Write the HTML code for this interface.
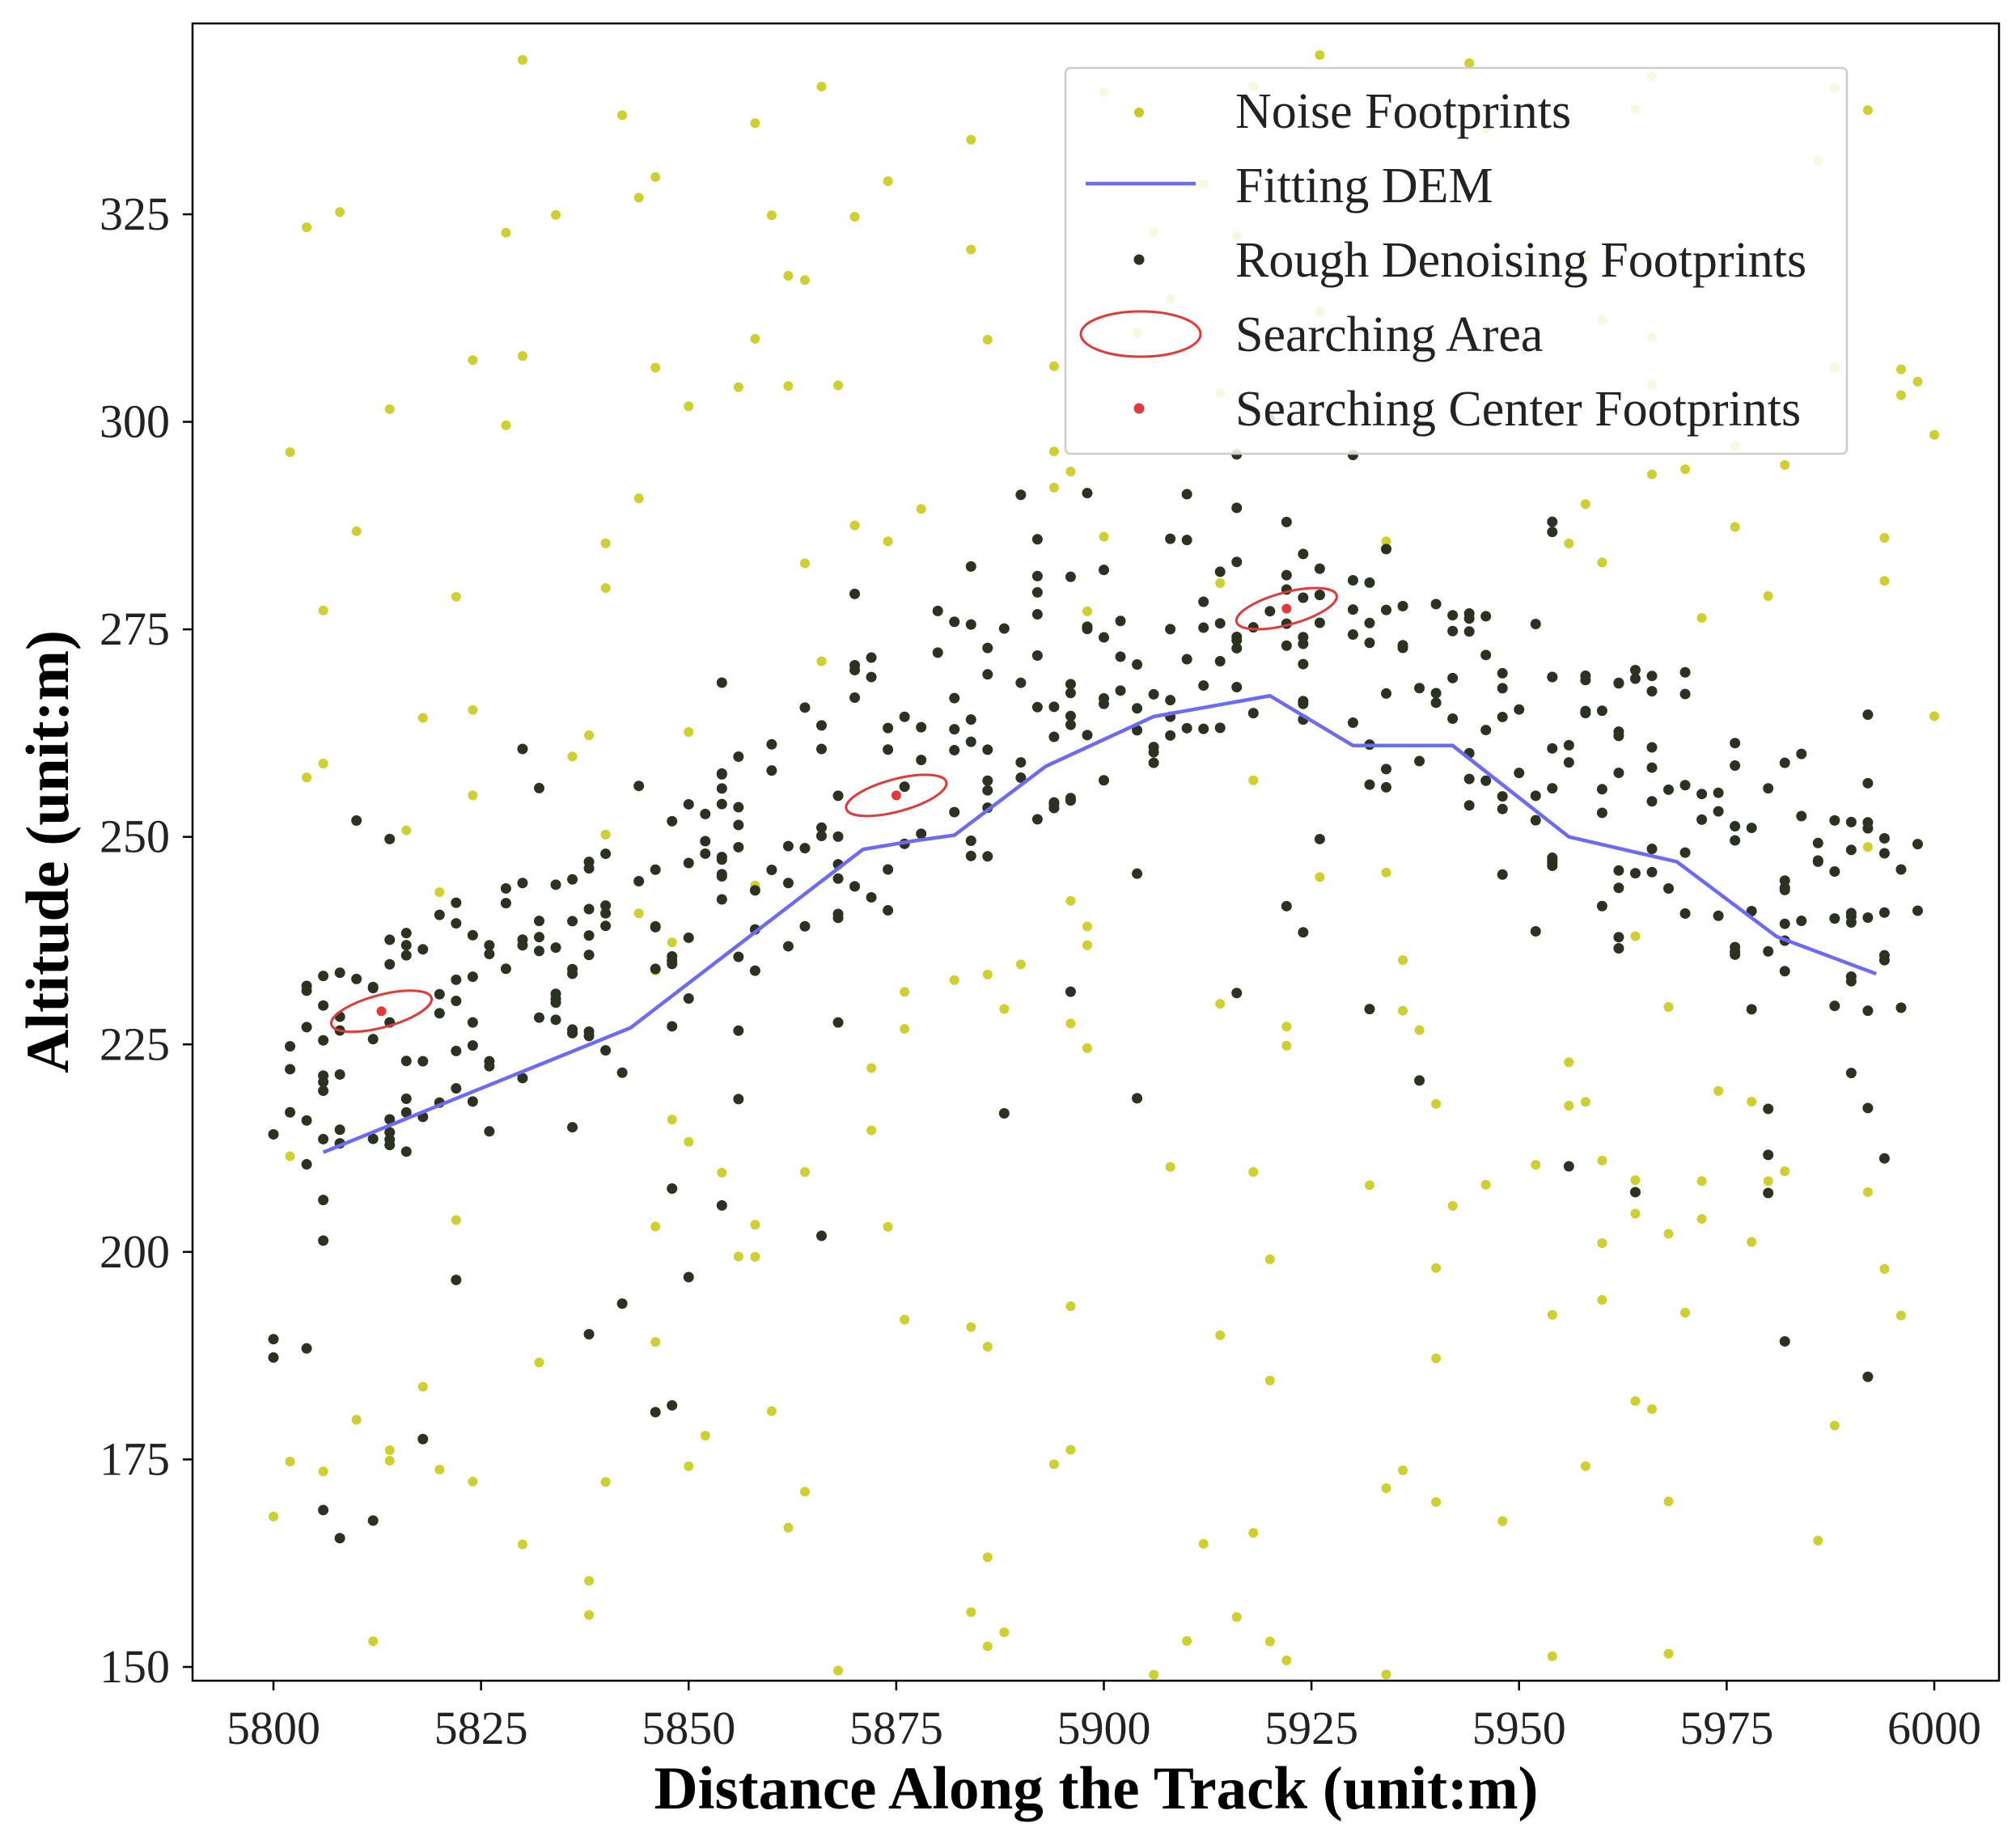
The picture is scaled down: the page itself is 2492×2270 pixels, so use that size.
<!DOCTYPE html>
<html><head><meta charset="utf-8"><style>
html,body{margin:0;padding:0;background:#fff;}
svg{display:block;font-family:"Liberation Serif",serif;}
</style></head><body>
<svg id="s" width="2492" height="2270" viewBox="0 0 2492 2270" xmlns="http://www.w3.org/2000/svg">
<rect x="0" y="0" width="2492" height="2270" fill="#fff"/>
<g id="noise"></g>
<g id="dark"></g>
<polyline id="dem" fill="none" stroke="#6b6bf5" stroke-width="4.5" points=""/>
<g id="ell"></g>
<rect x="238" y="29" width="2233" height="2049" fill="none" stroke="#000" stroke-width="2.5"/>
<g id="ticks" font-size="58" fill="#222"></g>
<text x="1355" y="2236" font-size="75" font-weight="bold" text-anchor="middle">Distance Along the Track (unit:m)</text>
<text transform="translate(84,1053) rotate(-90)" font-size="75" font-weight="bold" text-anchor="middle">Altitude (unit:m)</text>
<g>
<rect x="1317" y="84" width="966" height="477" rx="6" fill="#fff" fill-opacity="0.85" stroke="#ccc" stroke-width="2.5"/>
<circle cx="1408" cy="139" r="6" fill="#c8c820"/>
<line x1="1342" y1="227" x2="1478" y2="227" stroke="#6b6bf5" stroke-width="4.5"/>
<circle cx="1408" cy="321" r="6.5" fill="#2b3320"/>
<ellipse cx="1410" cy="413" rx="74" ry="28" fill="none" stroke="#e03a3a" stroke-width="3"/>
<circle cx="1408" cy="505" r="6.5" fill="#e03a3a"/>
<g font-size="62" fill="#222">
<text x="1527" y="158">Noise Footprints</text>
<text x="1527" y="250">Fitting DEM</text>
<text x="1527" y="342">Rough Denoising Footprints</text>
<text x="1527" y="434">Searching Area</text>
<text x="1527" y="526">Searching Center Footprints</text>
</g>
</g>
</svg>
<script>
var NS="http://www.w3.org/2000/svg";
function X(v){return 338+(v-5800)*10.265;}
function Y(v){return 2061-(v-150)*10.263;}
var s=12345;function r(){s=(s*1103515245+12345)%2147483648;return s/2147483648;}
function c(g,x,y,rad,f){var e=document.createElementNS(NS,"circle");e.setAttribute("cx",x);e.setAttribute("cy",y);e.setAttribute("r",rad);e.setAttribute("fill",f);document.getElementById(g).appendChild(e);}
var dem=[[5806,212],[5843,227],[5871,248.5],[5877,249.5],[5882,250.2],[5893,258.5],[5906,264.5],[5920,267],[5930,261],[5942,261],[5956,250],[5969,247],[5981,238],[5993,233.5]];
document.getElementById("dem").setAttribute("points",dem.map(function(p){return X(p[0])+","+Y(p[1]);}).join(" "));
function f(x){if(x<=dem[0][0])return 212-(dem[0][0]-x)*0.4;for(var i=0;i<dem.length-1;i++){if(x<=dem[i+1][0]){var t=(x-dem[i][0])/(dem[i+1][0]-dem[i][0]);return dem[i][1]+t*(dem[i+1][1]-dem[i][1]);}}return 233;}
for(var i=0;i<260;i++){var x=5800+r()*200,y=148+r()*197;var fy=f(x);if(y>fy-15&&y<fy+30&&r()<0.7)continue;c("noise",X(Math.round(x/2)*2),Y(y),6,"#cfcf30");}
for(var i=0;i<480;i++){var x=5800+r()*198;x=Math.round(x/2)*2;var u=r(),y;if(u<0.8)y=f(x)+(r()*30-6);else y=f(x)+(r()*90-50);c("dark",X(x),Y(y),6.5,"#2b3320");}
[[5813,229],[5875,255],[5922,277.5]].forEach(function(p){var e=document.createElementNS(NS,"ellipse");var cx=X(p[0]),cy=Y(p[1]);e.setAttribute("cx",cx);e.setAttribute("cy",cy);e.setAttribute("rx",64);e.setAttribute("ry",20);e.setAttribute("transform","rotate(-15 "+cx+" "+cy+")");e.setAttribute("fill","none");e.setAttribute("stroke","#e03a3a");e.setAttribute("stroke-width",3);document.getElementById("ell").appendChild(e);c("ell",cx,cy,6,"#e03a3a");});
var g=document.getElementById("ticks"),h="";
for(var v=5800;v<=6000;v+=25){var x=X(v);h+='<line x1="'+x+'" y1="2078" x2="'+x+'" y2="2090" stroke="#000" stroke-width="2.5"/><text x="'+x+'" y="2156" text-anchor="middle">'+v+'</text>';}
for(var v=150;v<=325;v+=25){var y=Y(v);h+='<line x1="226" y1="'+y+'" x2="238" y2="'+y+'" stroke="#000" stroke-width="2.5"/><text x="210" y="'+(y+19)+'" text-anchor="end">'+v+'</text>';}
g.innerHTML=h;
</script>
</body></html>
